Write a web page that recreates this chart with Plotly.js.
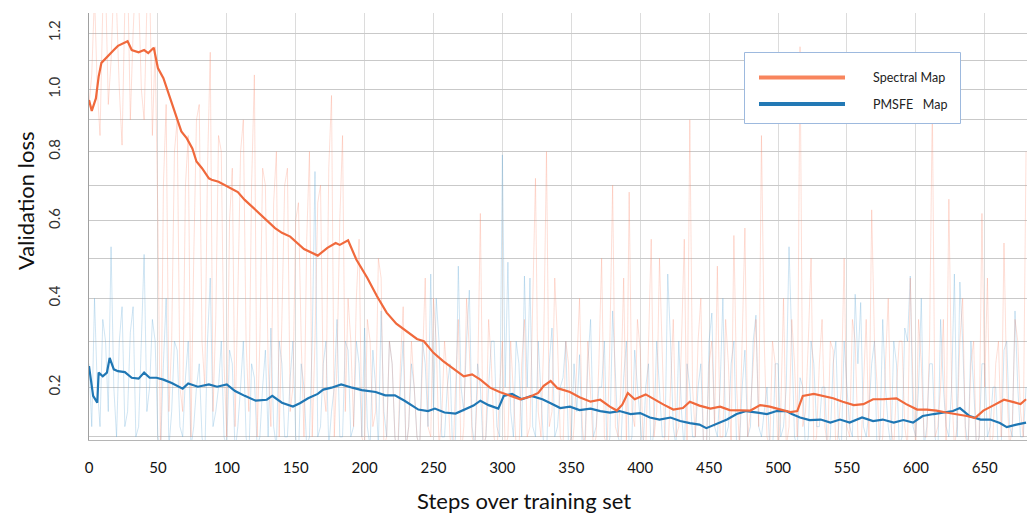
<!DOCTYPE html>
<html><head><meta charset="utf-8">
<script src="https://cdn.plot.ly/plotly-3.0.1.min.js"></script>
<style>html,body{margin:0;padding:0;background:#fff}#chart{width:1027px;height:513px}</style>
</head><body><div id="chart"></div>
<script>
// ---------- data ----------
const seriesNames = ['Spectral Map', 'PMSFE\u00a0\u00a0\u00a0Map'];

const spectralSteps = [0,2,5,7,9,13,18,21,28,31,36,40,43,47,50,54,59,63,67,71,75,78,82,87,89,94,99,104,108,113,118,123,128,135,140,146,156,160,166,173,179,182,188,194,202,209,216,223,231,238,243,250,257,264,272,278,284,291,298,306,313,320,326,330,335,340,347,349,356,364,371,378,383,387,391,396,404,410,417,424,431,436,443,451,458,465,472,480,487,494,502,509,514,518,526,533,540,547,555,562,569,576,586,593,601,608,615,622,630,637,643,649,656,664,671,676,680];
const spectralSmooth = [0.965,0.929,0.970,1.044,1.092,1.114,1.138,1.153,1.170,1.138,1.130,1.138,1.127,1.146,1.074,1.039,0.970,0.911,0.863,0.841,0.810,0.770,0.750,0.720,0.716,0.710,0.700,0.690,0.680,0.658,0.640,0.620,0.602,0.580,0.567,0.557,0.524,0.518,0.507,0.527,0.540,0.535,0.547,0.497,0.450,0.405,0.366,0.340,0.322,0.305,0.300,0.274,0.256,0.241,0.223,0.227,0.216,0.199,0.190,0.182,0.175,0.180,0.188,0.203,0.213,0.198,0.192,0.190,0.179,0.170,0.174,0.160,0.152,0.164,0.188,0.175,0.185,0.175,0.164,0.154,0.157,0.170,0.162,0.156,0.160,0.153,0.152,0.152,0.163,0.160,0.154,0.149,0.151,0.182,0.186,0.182,0.177,0.170,0.163,0.165,0.175,0.175,0.177,0.165,0.154,0.154,0.152,0.148,0.145,0.141,0.137,0.152,0.162,0.174,0.169,0.165,0.175];

const pmsfeSteps = [0,3,6,7,10,13,15,18,21,26,31,36,40,44,49,54,60,68,72,79,87,93,100,106,113,121,129,133,140,148,153,159,166,170,176,183,191,198,208,215,222,229,239,246,251,258,266,273,279,284,290,297,301,307,314,321,329,335,342,349,356,364,371,378,385,393,400,407,414,422,429,436,443,448,456,463,470,477,485,492,499,506,510,516,523,531,538,545,552,561,569,576,584,591,598,605,613,620,627,632,639,647,654,661,666,673,680];
const pmsfeSmooth = [0.245,0.182,0.168,0.231,0.223,0.231,0.263,0.238,0.234,0.232,0.220,0.218,0.231,0.220,0.220,0.216,0.209,0.197,0.208,0.201,0.206,0.201,0.206,0.192,0.182,0.172,0.174,0.182,0.168,0.160,0.167,0.177,0.186,0.195,0.199,0.206,0.199,0.194,0.190,0.183,0.183,0.172,0.154,0.151,0.156,0.148,0.146,0.154,0.162,0.172,0.163,0.156,0.182,0.186,0.175,0.182,0.175,0.167,0.157,0.160,0.153,0.156,0.151,0.148,0.151,0.145,0.147,0.138,0.134,0.138,0.131,0.127,0.124,0.117,0.126,0.134,0.145,0.151,0.148,0.145,0.151,0.151,0.145,0.138,0.133,0.134,0.128,0.134,0.128,0.138,0.131,0.134,0.128,0.133,0.128,0.141,0.145,0.148,0.151,0.157,0.141,0.134,0.134,0.127,0.119,0.124,0.128];

// raw (unsmoothed) values: "A" at steps 0,4,8,...  "B" at steps 2,6,10,...
const rawStepEvery = 4;
const spectralRawA = [0.95,1.35,0.85,1.4,1.1,1.3,0.82,1.45,1.2,1.35,0.9,1.4,1.15,0.05,
0.95,0.3,0.9,0.15,0.85,0.5,0.95,0.2,1.13,0.35,0.8,0.1,0.75,0.4,0.9,0.15,1.05,0.3,0.7,0.12,0.8,0.35,0.75,0.2,0.65,0.1,0.8,0.3,0.7,0.15,0.98,0.25,0.85,0.4,
0.12,0.55,0.08,0.3,0.15,0.45,0.1,0.25,0.06,0.38,0.12,0.2,0.08,0.45,0.1,0.3,0.14,0.22,0.05,0.35,0.12,0.28,0.08,0.62,0.1,0.25,0.06,0.3,
0.1,0.2,0.07,0.35,0.12,0.72,0.1,0.8,0.15,0.3,0.08,0.25,0.12,0.4,0.06,0.2,0.1,0.5,0.08,0.7,0.1,0.45,0.68,0.12,0.28,0.07,0.55,0.15,0.3,0.06,0.35,0.12,0.55,0.9,0.1,0.4,0.08,0.3,0.48,0.1,0.25,0.56,0.08,0.58,0.15,0.35,0.85,0.1,0.3,0.07,0.4,0.12,0.25,1.15,0.15,0.5,0.1,0.35,0.08,0.28,0.12,0.5,0.1,0.3,0.06,0.35,0.63,0.2,0.1,0.4,0.08,0.3,0.12,0.45,0.07,0.25,0.1,0.95,0.12,0.35,0.66,0.08,0.3,0.1,0.25,0.07,0.62,0.45,0.1,0.3,0.54,0.08,0.35,0.15,0.8];
const spectralRawB = [1.05,1.0,1.3,0.95,1.4,1.0,1.3,0.9,1.45,1.0,1.3,0.85,0.6,0.7,
0.15,0.8,0.2,0.7,0.1,0.9,0.3,0.75,0.15,0.85,0.25,0.6,0.12,0.8,0.3,0.7,0.1,0.75,0.25,0.65,0.1,0.7,0.15,0.6,0.3,0.55,0.1,0.65,0.2,0.75,0.1,0.6,0.15,0.3,
0.4,0.1,0.35,0.12,0.5,0.08,0.3,0.1,0.25,0.07,0.3,0.1,0.25,0.12,0.4,0.08,0.3,0.1,0.2,0.06,0.4,0.1,0.2,0.08,0.35,0.1,0.2,0.08,
0.3,0.08,0.25,0.1,0.4,0.15,0.3,0.12,0.45,0.1,0.3,0.06,0.25,0.12,0.3,0.08,0.25,0.1,0.3,0.12,0.2,0.08,0.15,0.35,0.1,0.3,0.1,0.5,0.08,0.2,0.1,0.3,0.08,0.2,0.3,0.07,0.25,0.12,0.1,0.35,0.08,0.2,0.3,0.1,0.25,0.12,0.3,0.08,0.25,0.15,0.08,0.35,0.1,0.12,0.3,0.08,0.25,0.12,0.3,0.07,0.2,0.12,0.35,0.1,0.2,0.1,0.3,0.06,0.25,0.12,0.2,0.3,0.08,0.2,0.35,0.1,0.3,0.1,0.2,0.08,0.2,0.12,0.4,0.08,0.3,0.1,0.2,0.08,0.25,0.1,0.2,0.12,0.3,0.1];
const pmsfeRawA = [0.25,0.4,0.12,0.3,0.53,0.1,0.38,0.15,0.38,0.12,0.51,0.2,0.3,0.08,0.4,0.15,0.28,0.1,0.3,0.12,0.25,0.06,0.45,0.15,0.3,0.08,0.25,0.12,0.3,0.06,0.22,0.1,0.28,0.33,0.08,0.25,0.1,0.3,0.06,0.2,0.1,0.74,0.12,0.3,0.15,0.35,0.1,0.28,
0.12,0.25,0.33,0.08,0.2,0.37,0.1,0.25,0.06,0.3,0.12,0.2,0.08,0.25,0.46,0.4,0.1,0.2,0.06,0.48,0.15,0.42,0.08,0.2,0.1,0.3,0.12,0.79,
0.49,0.1,0.25,0.455,0.45,0.1,0.2,0.06,0.33,0.12,0.22,0.08,0.25,0.27,0.1,0.35,0.12,0.2,0.06,0.37,0.1,0.22,0.08,0.28,0.12,0.2,0.06,0.3,0.1,0.46,0.12,0.3,0.07,0.2,0.1,0.25,0.06,0.365,0.1,0.4,0.12,0.3,0.08,0.28,0.12,0.36,0.1,0.2,0.06,0.25,0.12,0.53,0.1,0.22,0.07,0.3,0.12,0.2,0.06,0.25,0.1,0.3,0.12,0.41,0.39,0.1,0.25,0.06,0.35,0.12,0.3,0.08,0.33,0.455,0.1,0.4,0.12,0.25,0.06,0.2,0.1,0.46,0.44,0.12,0.3,0.08,0.25,0.1,0.2,0.06,0.28,0.12,0.37,0.1,0.2];
const pmsfeRawB = [0.12,0.2,0.35,0.15,0.2,0.3,0.12,0.32,0.1,0.3,0.15,0.35,0.1,0.25,0.08,0.3,0.12,0.22,0.08,0.2,0.1,0.3,0.12,0.2,0.1,0.28,0.07,0.2,0.1,0.25,0.08,0.2,0.1,0.12,0.3,0.1,0.22,0.1,0.25,0.08,0.3,0.1,0.25,0.08,0.2,0.1,0.3,0.1,
0.3,0.1,0.12,0.28,0.08,0.15,0.3,0.1,0.2,0.08,0.25,0.1,0.3,0.12,0.15,0.3,0.1,0.25,0.1,0.2,0.3,0.12,0.25,0.08,0.2,0.3,0.1,0.2,
0.15,0.3,0.1,0.2,0.12,0.3,0.08,0.25,0.1,0.2,0.3,0.1,0.15,0.08,0.25,0.1,0.2,0.3,0.1,0.22,0.08,0.3,0.1,0.2,0.07,0.25,0.12,0.2,0.1,0.3,0.08,0.15,0.25,0.1,0.2,0.08,0.3,0.12,0.2,0.1,0.25,0.08,0.2,0.1,0.3,0.12,0.15,0.08,0.25,0.1,0.2,0.3,0.08,0.2,0.1,0.25,0.12,0.2,0.1,0.3,0.08,0.2,0.1,0.25,0.12,0.15,0.3,0.1,0.2,0.08,0.25,0.1,0.3,0.12,0.2,0.08,0.25,0.1,0.35,0.12,0.2,0.1,0.3,0.08,0.2,0.1,0.25,0.12,0.2,0.08,0.3,0.1,0.2,0.1];

const xTickVals = [0,50,100,150,200,250,300,350,400,450,500,550,600,650];
const yGridValues = [0.1,0.2,0.3,0.4,0.5,0.6,0.7,0.8,0.9,1.0,1.1,1.2];
const yTickLabels = ['','0.2','','0.4','','0.6','','0.8','','1.0','','1.2'];

// ---------- axis transform (the chart's y scale is log(v + 1.1)) ----------
const OFFSET = 1.1;
const f = v => Math.log10(v + OFFSET);
const X_MAX = 680.7;
function mergeRaw(a, b) {
  const xs = [], ys = [];
  a.forEach((v, i) => {
    xs.push(i * rawStepEvery); ys.push(f(v));
    if (i < b.length && i * rawStepEvery + rawStepEvery / 2 <= X_MAX) {
      xs.push(i * rawStepEvery + rawStepEvery / 2); ys.push(f(b[i]));
    }
  });
  return {xs, ys};
}
const spR = mergeRaw(spectralRawA, spectralRawB);
const pmR = mergeRaw(pmsfeRawA, pmsfeRawB);

const COL_SPEC = '#f0693c', COL_PMS = '#1f77b4';
const FONT = 'Lato, "Open Sans", sans-serif';

const traces = [
  {x: pmR.xs, y: pmR.ys, mode:'lines', line:{color:'rgba(100,170,215,0.3)', width:1}, showlegend:false, hoverinfo:'skip'},
  {x: spR.xs, y: spR.ys, mode:'lines', line:{color:'rgba(250,140,110,0.28)', width:1}, showlegend:false, hoverinfo:'skip'},
  {x: pmsfeSteps, y: pmsfeSmooth.map(f), mode:'lines', name: seriesNames[1], line:{color:COL_PMS, width:2.2}, showlegend:false},
  {x: spectralSteps, y: spectralSmooth.map(f), mode:'lines', name: seriesNames[0], line:{color:COL_SPEC, width:2.2}, showlegend:false}
];

// pixel helpers for layout decoration (plot area 89..1027 x 13..440)
const L = 89, R = 1027, T = 13, B = 440;
const px = p => (p - L) / (R - L);
const py = p => (B - p) / (B - T);

const layout = {
  width: 1027, height: 513,
  margin: {l: L, r: 1027 - R, t: T, b: 513 - B, pad: 0},
  paper_bgcolor: '#fff', plot_bgcolor: '#fff',
  font: {family: FONT, color: '#111'},
  xaxis: {
    range: [0, X_MAX], tickvals: xTickVals, ticks: '', ticklabelstandoff: 14,
    tickfont: {size: 15, color: '#111', family: FONT},
    showgrid: true, gridcolor: '#dcdcdc', gridwidth: 1,
    showline: true, linecolor: '#b5b5b5', linewidth: 1, zeroline: false
  },
  yaxis: {
    range: [f(0.094), f(1.2755)], tickvals: yGridValues.map(f), ticktext: yTickLabels,
    tickangle: -90, ticks: '', ticklabelstandoff: 22,
    tickfont: {size: 15, color: '#333', family: FONT},
    showgrid: true, gridcolor: '#c9c9c9', gridwidth: 1,
    showline: true, linecolor: '#a0a0a0', linewidth: 1, zeroline: false
  },
  showlegend: false,
  shapes: [
    {type:'rect', xref:'paper', yref:'paper', x0:px(744.5), x1:px(960.5), y0:py(123.5), y1:py(52.5), line:{color:'#9db9de', width:1}, fillcolor:'#fff', layer:'above'},
    {type:'line', xref:'paper', yref:'paper', x0:px(759), x1:px(845), y0:py(77.5), y1:py(77.5), line:{color:'#f8855d', width:4}},
    {type:'line', xref:'paper', yref:'paper', x0:px(759), x1:px(845), y0:py(104), y1:py(104), line:{color:'#2379b5', width:4}}
  ],
  annotations: [
    {xref:'paper', yref:'paper', x:px(871), y:py(77), xanchor:'left', yanchor:'middle', text: seriesNames[0], showarrow:false, font:{size:12.5, color:'#222', family: FONT}},
    {xref:'paper', yref:'paper', x:px(871), y:py(104), xanchor:'left', yanchor:'middle', text: seriesNames[1], showarrow:false, font:{size:12.5, color:'#222', family: FONT}},
    {xref:'paper', yref:'paper', x:px(524), y:py(500), xanchor:'center', yanchor:'middle', text:'Steps over training set', showarrow:false, font:{size:22, color:'#111', family: FONT}},
    {xref:'paper', yref:'paper', x:px(25), y:py(201), xanchor:'center', yanchor:'middle', textangle:-90, text:'Validation loss', showarrow:false, font:{size:22, color:'#111', family: FONT}}
  ]
};

Plotly.newPlot('chart', traces, layout, {displayModeBar:false, staticPlot:true});
</script>
</body></html>
